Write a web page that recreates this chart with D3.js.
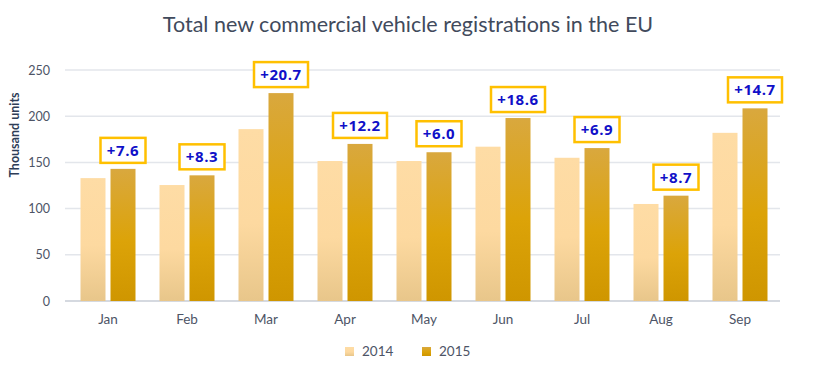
<!DOCTYPE html>
<html><head><meta charset="utf-8">
<script src="https://cdn.jsdelivr.net/npm/d3@7"></script>
<style>body{margin:0;background:#fff}</style>
</head><body>
<script>
const months = ["Jan","Feb","Mar","Apr","May","Jun","Jul","Aug","Sep"];
const values2014 = [133, 125.5, 186, 151.5, 151.5, 167, 155, 105, 182];
const values2015 = [143, 136, 225, 170, 161, 198, 165.5, 114, 208.5];
const changeLabels = ["+7.6","+8.3","+20.7","+12.2","+6.0","+18.6","+6.9","+8.7","+14.7"];
const yTicks = [0,50,100,150,200,250];
const seriesNames = ["2014","2015"];

const W=815,H=380;
const svg=d3.select("body").append("svg").attr("width",W).attr("height",H);
const defs=svg.append("defs");
const g14=defs.append("linearGradient").attr("id","g14").attr("x1",0).attr("y1",0).attr("x2",0).attr("y2",1);
g14.append("stop").attr("offset","0%").attr("stop-color","#fedca5");
g14.append("stop").attr("offset","55%").attr("stop-color","#fdd9a0");
g14.append("stop").attr("offset","100%").attr("stop-color","#e8c68a");
const g15=defs.append("linearGradient").attr("id","g15").attr("x1",0).attr("y1",0).attr("x2",0).attr("y2",1);
g15.append("stop").attr("offset","0%").attr("stop-color","#d9a83e");
g15.append("stop").attr("offset","55%").attr("stop-color","#dca308");
g15.append("stop").attr("offset","100%").attr("stop-color","#cf9600");

const x=d3.scaleBand().domain(months).range([68.5,779.5]);
const y=d3.scaleLinear().domain([0,250]).range([301,70]);

// gridlines
svg.append("g").selectAll("line").data(yTicks).join("line")
  .attr("x1",65).attr("x2",780).attr("y1",d=>y(d)).attr("y2",d=>y(d))
  .attr("stroke",d=>d===0?"#d5d9e0":"#e3e6eb").attr("stroke-width",d=>d===0?2:1.5);

// y axis tick labels
const yAxis=d3.axisLeft(y).tickValues(yTicks).tickSize(0).tickPadding(0);
const ya=svg.append("g").attr("transform","translate(50,0)").call(yAxis);
ya.select(".domain").remove();
ya.selectAll("text").attr("font-family","Lato, 'Open Sans', sans-serif").attr("font-size",12.5).attr("fill","#4d5466");

// x axis labels
const xAxis=d3.axisBottom(x).tickSize(0).tickPadding(0);
const xa=svg.append("g").attr("transform","translate(0,314)").call(xAxis);
xa.select(".domain").remove();
xa.selectAll("text").attr("font-family","Lato, 'Open Sans', sans-serif").attr("font-size",13.5).attr("fill","#4d5466");

const bw=25, gap=5;
const bars=svg.append("g");
bars.selectAll(".b14").data(months).join("rect")
  .attr("x",(d)=>x(d)+x.bandwidth()/2-gap/2-bw)
  .attr("y",(d,i)=>y(values2014[i])).attr("width",bw)
  .attr("height",(d,i)=>y(0)-y(values2014[i])).attr("fill","url(#g14)");
bars.selectAll(".b15").data(months).join("rect")
  .attr("x",(d)=>x(d)+x.bandwidth()/2+gap/2)
  .attr("y",(d,i)=>y(values2015[i])).attr("width",bw)
  .attr("height",(d,i)=>y(0)-y(values2015[i])).attr("fill","url(#g15)");

// labels
const lab=svg.append("g");
months.forEach((m,i)=>{
  const cx=x(m)+x.bandwidth()/2+gap/2+bw/2;
  const top=y(values2015[i]);
  const t=changeLabels[i];
  const w=t.length>4?54:45;
  const h=25;
  lab.append("rect").attr("x",cx-w/2).attr("y",top-6-h).attr("width",w).attr("height",h)
    .attr("fill","#fff").attr("stroke","#ffc000").attr("stroke-width",2.5);
  lab.append("text").attr("x",cx).attr("y",top-6-h/2+5.5).attr("text-anchor","middle")
    .attr("font-family","'Open Sans', Lato, sans-serif").attr("font-weight","bold").attr("font-size",15)
    .attr("letter-spacing",0.6).attr("fill","#1010c8").text(t);
});

// title
svg.append("text").attr("x",408).attr("y",32).attr("text-anchor","middle")
  .attr("font-family","Lato, 'Open Sans', sans-serif").attr("font-size",21.5).attr("fill","#414a5c")
  .text("Total new commercial vehicle registrations in the EU");

// y axis title
svg.append("text").attr("transform","translate(19,135) rotate(-90)").attr("text-anchor","middle")
  .attr("font-family","Lato, 'Open Sans', sans-serif").attr("font-weight","bold").attr("font-size",12.5).attr("fill","#2e3d57")
  .text("Thousand units");

// legend
const leg=svg.append("g");
const legX=[345,422];
seriesNames.forEach((s,i)=>{
  leg.append("rect").attr("x",legX[i]).attr("y",347).attr("width",9).attr("height",9).attr("fill",i===0?"url(#g14)":"url(#g15)");
  leg.append("text").attr("x",legX[i]+17).attr("y",356).attr("font-family","Lato, 'Open Sans', sans-serif")
    .attr("font-size",13.5).attr("fill","#4d5466").text(s);
});
</script>
</body></html>
